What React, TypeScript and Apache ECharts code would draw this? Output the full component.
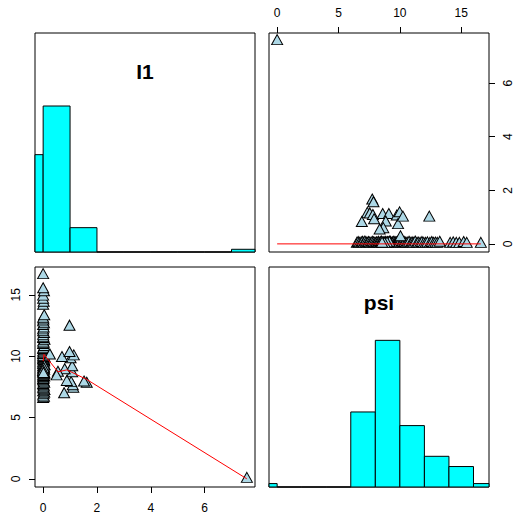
import React, { useEffect, useRef } from 'react';
import * as echarts from 'echarts';

// ---- data ----
const varNames = ['I1', 'psi'];

// I1 and psi observations (100 rows)
const i1Values = [
  // column of (near) zero I1 values
  0, 0.03, 0, 0.02, 0.04, 0, 0.05, 0.02, 0, 0.03, 0.01, 0, 0.04, 0.02, 0,
  0, 0.02, 0, 0.04, 0.01, 0, 0.03, 0.05, 0, 0.02,
  0, 0.04, 0.01, 0, 0.03, 0.02, 0, 0.05, 0.01, 0,
  0.02, 0, 0.04, 0.03, 0, 0.01, 0.02, 0, 0.05, 0.03,
  0, 0.04, 0.02, 0, 0.01,
  0, 0.02, 0, 0.03, 0, 0.01, 0.04, 0, 0.02, 0, 0.05, 0, 0.01, 0, 0.03, 0,
  0, 0.02, 0, 0.03, 0, 0.01, 0, 0.04,
  0, 0.02, 0, 0, 0.03, 0,
  0,
  // scattered points
  7.57, 1.62, 1.52, 1.12, 1.1, 1.04, 0.88, 0.78, 1.08, 1.08, 0.8, 0.55, 0.5,
  1.02, 1.14, 0.7, 0.98, 0.25, 0.98,
];
const psiValues = [
  6.5, 6.6, 6.7, 6.85, 6.95, 7.05, 7.15, 7.25, 7.35, 7.45, 7.55, 7.65, 7.75, 7.85, 7.95,
  8.05, 8.1, 8.2, 8.25, 8.3, 8.4, 8.45, 8.5, 8.6, 8.65,
  8.7, 8.8, 8.85, 8.9, 9.0, 9.05, 9.1, 9.2, 9.25, 9.3,
  9.4, 9.45, 9.5, 9.6, 9.65, 9.7, 9.75, 9.8, 9.85, 9.9,
  9.95, 9.15, 8.95, 8.75, 8.55,
  10.1, 10.2, 10.3, 10.4, 10.5, 10.6, 10.75, 10.9, 11.0, 11.1, 11.25, 11.4, 11.5, 11.65, 11.8, 11.95,
  12.1, 12.25, 12.45, 12.6, 12.75, 12.9, 13.05, 13.25,
  14.1, 14.35, 14.6, 14.85, 15.2, 15.45,
  16.6,
  0, 7.75, 7.85, 7.35, 7.55, 7.8, 7.9, 6.9, 8.6, 9.1, 8.85, 8.65, 8.35,
  9.75, 9.98, 9.85, 10.25, 10.05, 12.4,
];

// histogram breaks
const i1Breaks = [-1, 0, 1, 2, 3, 4, 5, 6, 7, 8];
const psiBreaks = [-2, 0, 2, 4, 6, 8, 10, 12, 14, 16, 18];

// smoother (lowess) lines
const smoothPsiOnI1X = [0, 0.03, 0.55, 0.88, 1.62, 7.57];
const smoothPsiOnI1Y = [9.6, 10.15, 8.72, 8.88, 8.1, 0];
const smoothI1OnPsiX = [0, 16.6];
const smoothI1OnPsiY = [0, 0];

// tick labels
const i1Ticks = [0, 2, 4, 6];
const psiTicks = [0, 5, 10, 15];

// ---- helpers ----
function histCounts(values: number[], breaks: number[]) {
  const counts = new Array(breaks.length - 1).fill(0);
  values.forEach((v) => {
    for (let i = 0; i < breaks.length - 1; i++) {
      const lo = breaks[i];
      const hi = breaks[i + 1];
      if ((v > lo || (i === 0 && v >= lo)) && v <= hi) {
        counts[i]++;
        break;
      }
    }
  });
  return counts;
}

function histData(values: number[], breaks: number[]) {
  const counts = histCounts(values, breaks);
  const mx = Math.max(...counts);
  return counts.map((c, i) => [breaks[i], breaks[i + 1], c / mx]);
}

function extRange(values: number[]) {
  const mn = Math.min(...values);
  const mx = Math.max(...values);
  const e = (mx - mn) * 0.04;
  return [mn - e, mx + e];
}

const FONT = '"Liberation Sans", Arial, Helvetica, sans-serif';

export default function App() {
  const ref = useRef<HTMLDivElement>(null);

  useEffect(() => {
    if (!ref.current) return;
    const chart = echarts.init(ref.current, undefined, { renderer: 'svg' });

    const [i1Min, i1Max] = extRange(i1Values);
    const [psiMin, psiMax] = extRange(psiValues);

    const L1 = 35, L2 = 269, T1 = 33, T2 = 267, W = 220, H = 220;
    const grids = [
      { left: L1, top: T1, width: W, height: 219 },
      { left: L2, top: T1, width: W, height: 219 },
      { left: L1, top: T2, width: W, height: H },
      { left: L2, top: T2, width: W, height: H },
    ].map((g) => ({ ...g, show: true, borderColor: '#000', borderWidth: 1, backgroundColor: 'transparent' }));

    const hidden = (gi: number, min: number, max: number) => ({
      type: 'value', gridIndex: gi, min, max, show: false,
      splitLine: { show: false },
      axisLine: { show: false, onZero: false },
    });

    const shown = (gi: number, min: number, max: number, ticks: number[], position: string, rotate: number, margin: number) => ({
      type: 'value', gridIndex: gi, min, max, position,
      splitLine: { show: false },
      axisLine: { show: false, onZero: false },
      axisTick: { show: true, length: 6, inside: false, customValues: ticks, lineStyle: { color: '#000', width: 1 } },
      axisLabel: {
        customValues: ticks, rotate, margin, fontSize: 12, color: '#000', fontFamily: FONT,
        showMinLabel: true, showMaxLabel: true,
      },
    });

    const histRender = (params: any, api: any) => {
      const p0 = api.coord([api.value(0), 0]);
      const p1 = api.coord([api.value(1), api.value(2)]);
      const cs = params.coordSys;
      const rect = echarts.graphic.clipRectByRect(
        { x: p0[0], y: p1[1], width: p1[0] - p0[0], height: p0[1] - p1[1] },
        { x: cs.x, y: cs.y, width: cs.width, height: cs.height }
      );
      if (!rect) return null;
      return {
        type: 'rect',
        shape: rect,
        style: { fill: '#00FFFF', stroke: '#000', lineWidth: 1 },
      };
    };

    const pointStyle = {
      symbol: 'triangle',
      symbolSize: [11, 10],
      symbolOffset: [0, -1.5],
      itemStyle: { color: '#ADD8E6', borderColor: '#000', borderWidth: 1, opacity: 1 },
    };

    const option: any = {
      animation: false,
      backgroundColor: '#fff',
      grid: grids,
      xAxis: [
        hidden(0, i1Min, i1Max),
        shown(1, psiMin, psiMax, psiTicks, 'top', 0, 14),
        shown(2, i1Min, i1Max, i1Ticks, 'bottom', 0, 15),
        hidden(3, psiMin, psiMax),
      ],
      yAxis: [
        hidden(0, 0, 1.5),
        shown(1, i1Min, i1Max, i1Ticks, 'right', 90, 13),
        shown(2, psiMin, psiMax, psiTicks, 'left', 90, 13),
        hidden(3, 0, 1.5),
      ],
      graphic: [
        {
          type: 'text', x: L1 + W / 2, y: T1 + 38,
          style: { text: varNames[0], fontSize: 21, fontWeight: 'bold', fontFamily: FONT, fill: '#000', align: 'center', verticalAlign: 'middle' },
        },
        {
          type: 'text', x: L2 + W / 2, y: T2 + 35,
          style: { text: varNames[1], fontSize: 21, fontWeight: 'bold', fontFamily: FONT, fill: '#000', align: 'center', verticalAlign: 'middle' },
        },
      ],
      series: [
        {
          type: 'custom', xAxisIndex: 0, yAxisIndex: 0,
          renderItem: histRender, data: histData(i1Values, i1Breaks),
        },
        {
          type: 'scatter', xAxisIndex: 1, yAxisIndex: 1, ...pointStyle,
          data: psiValues.map((p, i) => [p, i1Values[i]]),
        },
        {
          type: 'line', xAxisIndex: 1, yAxisIndex: 1, showSymbol: false, symbol: 'none',
          lineStyle: { color: '#FF0000', width: 1 },
          data: smoothI1OnPsiX.map((x, i) => [x, smoothI1OnPsiY[i]]),
        },
        {
          type: 'scatter', xAxisIndex: 2, yAxisIndex: 2, ...pointStyle,
          data: i1Values.map((v, i) => [v, psiValues[i]]),
        },
        {
          type: 'line', xAxisIndex: 2, yAxisIndex: 2, showSymbol: false, symbol: 'none',
          lineStyle: { color: '#FF0000', width: 1 },
          data: smoothPsiOnI1X.map((x, i) => [x, smoothPsiOnI1Y[i]]),
        },
        {
          type: 'custom', xAxisIndex: 3, yAxisIndex: 3,
          renderItem: histRender, data: histData(psiValues, psiBreaks),
        },
      ],
    };

    chart.setOption(option);
    return () => chart.dispose();
  }, []);

  return (
    <div
      ref={ref}
      style={{ position: 'absolute', left: 0, top: 0, width: 516, height: 514, background: '#fff' }}
    />
  );
}
